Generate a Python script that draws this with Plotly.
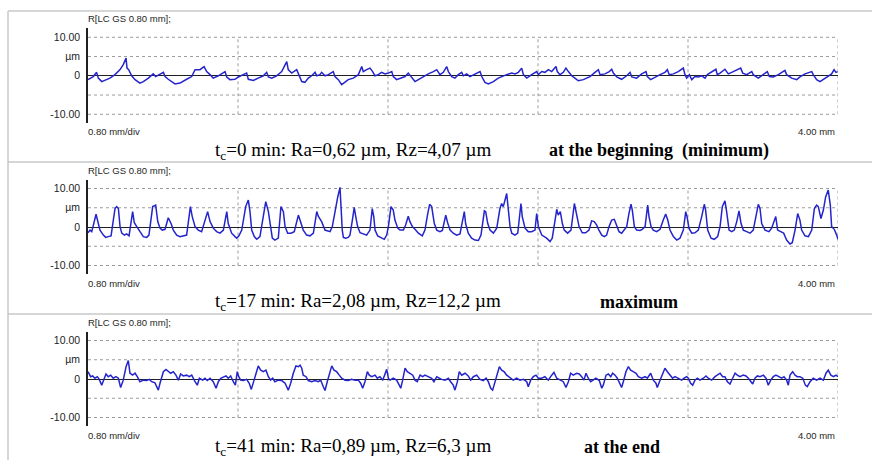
import plotly.graph_objects as go

# ---------------- data ----------------
TICK_VALS = [10, 5, 0, -10]
TICK_TEXT = ["10.00", "µm", "0", "-10.00"]
GRID_Y = [10, 5, -5, -10]
GRID_X = [0.8, 1.6, 2.4, 3.2, 4.0]
X_RANGE = [0.0, 4.0]
Y_RANGE = [-12.2, 12.3]
HEADER = "R[LC GS 0.80 mm];"
SCALE_LEFT = "0.80 mm/div"
SCALE_RIGHT = "4.00 mm"
CAPTIONS = [
    "t<sub>c</sub>=0 min: Ra=0,62 µm, Rz=4,07 µm",
    "t<sub>c</sub>=17 min: Ra=2,08 µm, Rz=12,2 µm",
    "t<sub>c</sub>=41 min: Ra=0,89 µm, Rz=6,3 µm",
]
NOTES = ["at the beginning\u00a0\u00a0(minimum)", "maximum", "at the end"]

# profile points (position in mm, height in µm)
PROFILE_0MIN = [
    (0.000, -1.0), (0.011, -0.6), (0.028, -0.2), (0.046, 0.9), (0.055, -0.6), (0.073, -1.5), (0.091, -1.2),
    (0.117, -0.6), (0.144, 0.3), (0.171, 1.6), (0.188, 2.9), (0.203, 4.6), (0.208, 2.0), (0.217, 1.6),
    (0.233, 0.0), (0.251, -1.0), (0.277, -1.9), (0.295, -1.5), (0.322, -0.6), (0.348, 0.5), (0.361, -0.2),
    (0.384, 0.3), (0.402, 0.9), (0.411, -0.2), (0.428, -0.9), (0.464, -2.1), (0.491, -1.9), (0.526, -0.9),
    (0.553, -0.2), (0.571, 1.6), (0.597, 1.6), (0.619, 2.4), (0.633, 1.1), (0.651, 0.3), (0.668, -0.6),
    (0.695, 0.0), (0.713, 0.5), (0.731, 1.1), (0.740, -0.3), (0.757, -1.0), (0.784, -0.9), (0.802, -0.3),
    (0.828, 0.3), (0.846, 0.7), (0.855, -0.9), (0.882, -1.2), (0.908, -0.6), (0.935, 0.0), (0.953, 0.9),
    (0.962, -0.3), (0.980, -0.6), (1.006, 0.0), (1.033, 1.1), (1.060, 3.7), (1.068, 1.6), (1.086, 0.7),
    (1.113, 1.6), (1.131, -0.5), (1.140, -1.5), (1.157, -1.7), (1.175, -0.6), (1.193, 0.0), (1.211, 0.9),
    (1.220, 0.0), (1.237, 0.3), (1.246, 0.9), (1.264, 0.0), (1.282, 0.3), (1.300, 0.9), (1.308, 1.1),
    (1.317, -0.2), (1.335, -1.0), (1.353, -2.3), (1.371, -1.7), (1.388, -1.0), (1.415, -0.6), (1.442, 0.3),
    (1.460, 2.4), (1.468, 1.1), (1.486, 1.6), (1.504, 2.0), (1.518, 1.1), (1.531, 0.0), (1.548, 0.3),
    (1.566, 0.9), (1.584, 0.5), (1.602, 0.7), (1.620, 1.1), (1.628, -0.2), (1.646, -1.0), (1.673, -0.6),
    (1.691, -0.2), (1.708, 0.7), (1.721, -0.2), (1.744, -1.5), (1.762, -1.0), (1.788, -0.2), (1.815, 0.5),
    (1.842, 1.1), (1.860, 1.6), (1.877, 0.3), (1.895, 0.9), (1.913, 2.4), (1.922, 1.1), (1.940, -0.2),
    (1.957, -0.6), (1.975, 0.3), (1.993, 0.9), (2.002, 0.0), (2.020, 0.5), (2.037, -0.2), (2.064, 0.5),
    (2.091, 1.1), (2.100, -0.2), (2.117, -1.7), (2.135, -2.1), (2.162, -1.5), (2.188, -0.6), (2.215, 0.0),
    (2.233, 0.3), (2.260, 0.7), (2.277, 0.5), (2.295, 0.9), (2.313, 2.0), (2.322, 0.3), (2.340, -0.6),
    (2.366, 0.3), (2.393, 1.1), (2.402, 0.3), (2.420, 1.1), (2.437, 0.9), (2.455, 1.6), (2.473, 1.1),
    (2.496, 2.4), (2.503, 1.1), (2.517, 0.3), (2.535, 0.9), (2.549, 2.0), (2.562, 1.1), (2.580, 0.0),
    (2.597, -0.6), (2.615, -1.3), (2.642, -1.0), (2.677, -0.2), (2.704, 0.9), (2.722, 1.6), (2.731, 0.3),
    (2.757, 0.5), (2.780, 1.1), (2.793, 1.7), (2.802, 0.7), (2.820, -0.3), (2.846, -0.9), (2.873, 0.0),
    (2.891, 0.9), (2.900, -0.3), (2.926, -0.6), (2.953, 0.5), (2.976, 1.1), (2.983, -0.2), (3.001, -1.0),
    (3.024, -0.3), (3.051, 0.3), (3.077, 0.9), (3.090, 1.6), (3.100, 0.3), (3.122, 0.5), (3.148, 1.1),
    (3.175, 2.0), (3.184, 0.3), (3.193, -0.6), (3.207, 0.3), (3.220, -1.0), (3.237, -0.2), (3.255, -0.3),
    (3.273, 0.0), (3.291, -0.6), (3.303, 0.3), (3.326, 1.1), (3.349, 1.7), (3.356, 0.3), (3.371, 0.7),
    (3.397, 1.7), (3.415, 0.5), (3.433, 0.9), (3.460, 1.6), (3.481, 2.0), (3.492, 0.7), (3.513, 0.3),
    (3.540, 1.1), (3.548, 0.3), (3.575, -0.6), (3.598, 0.3), (3.623, 1.1), (3.634, -0.2), (3.655, -0.3),
    (3.682, 0.3), (3.705, 0.9), (3.717, 1.4), (3.726, 0.3), (3.753, -0.6), (3.780, -1.0), (3.797, -0.3),
    (3.824, 0.5), (3.842, 0.9), (3.860, 1.1), (3.868, 0.3), (3.886, -1.0), (3.904, -1.5), (3.931, -0.6),
    (3.948, 0.0), (3.966, 0.5), (3.979, 1.6), (3.989, 0.9), (3.998, 1.1),
]

PROFILE_17MIN = [
    (0.000, -1.5), (0.011, -0.8), (0.020, -1.2), (0.043, 3.3), (0.055, 0.9), (0.064, -0.8), (0.082, -2.1),
    (0.094, -2.7), (0.108, -2.5), (0.123, -2.3), (0.144, 4.8), (0.153, 5.3), (0.162, 4.8), (0.171, 0.1),
    (0.180, -1.6), (0.194, -2.1), (0.206, -1.8), (0.219, -2.3), (0.238, 4.0), (0.247, 1.1), (0.260, 0.1),
    (0.277, -1.2), (0.295, -2.5), (0.313, -2.7), (0.325, -2.1), (0.345, 5.3), (0.361, 5.7), (0.372, 1.4),
    (0.384, -0.3), (0.396, -0.8), (0.411, -0.6), (0.428, 2.4), (0.443, 0.9), (0.455, -0.8), (0.473, -2.1),
    (0.491, -2.5), (0.508, -2.3), (0.526, -2.1), (0.546, 5.3), (0.556, 2.7), (0.571, 0.1), (0.588, -0.8),
    (0.606, -1.2), (0.638, 4.0), (0.651, 1.4), (0.668, -0.3), (0.686, -1.2), (0.704, -1.6), (0.722, -0.8),
    (0.740, 4.0), (0.748, 0.9), (0.766, -1.6), (0.784, -2.5), (0.793, -2.9), (0.805, -2.3), (0.820, -0.8),
    (0.841, 5.3), (0.855, 7.0), (0.864, 4.0), (0.873, -0.8), (0.887, -2.5), (0.900, -3.2), (0.917, -2.5),
    (0.935, 2.7), (0.948, 6.6), (0.962, 4.0), (0.976, -0.8), (0.983, -2.9), (0.997, -3.4), (1.015, -2.9),
    (1.029, 5.3), (1.042, 4.0), (1.051, 0.1), (1.065, -1.6), (1.083, -1.6), (1.100, -1.2), (1.122, 3.1),
    (1.131, 1.8), (1.148, -0.8), (1.166, -2.1), (1.184, -2.3), (1.202, -1.6), (1.220, 4.0), (1.228, 2.8),
    (1.246, 1.4), (1.264, -0.8), (1.291, -1.2), (1.303, 0.1), (1.317, 4.4), (1.332, 7.8), (1.344, 10.3),
    (1.349, 5.3), (1.356, -0.8), (1.362, -2.7), (1.374, -2.9), (1.388, -2.7), (1.397, -2.1), (1.410, 1.8),
    (1.420, 5.1), (1.428, 2.7), (1.438, 0.1), (1.451, -1.5), (1.468, -1.8), (1.486, -2.1), (1.504, -0.8),
    (1.516, 4.8), (1.524, 2.7), (1.531, -0.8), (1.545, -2.3), (1.563, -2.7), (1.580, -3.2), (1.593, -2.1),
    (1.602, 0.1), (1.616, 5.3), (1.628, 4.4), (1.637, 1.8), (1.652, -0.3), (1.664, -0.8), (1.682, -0.8),
    (1.694, 0.5), (1.708, 2.8), (1.717, 1.4), (1.730, 0.1), (1.744, -0.6), (1.762, -1.6), (1.783, -2.3),
    (1.797, -0.8), (1.812, 3.5), (1.822, 5.9), (1.833, 5.3), (1.847, 0.9), (1.860, -0.8), (1.877, -1.2),
    (1.890, -0.9), (1.908, 3.1), (1.918, 1.1), (1.931, -0.8), (1.948, -1.6), (1.966, -2.1), (1.984, -1.8),
    (2.007, 4.0), (2.014, 0.9), (2.028, -1.6), (2.046, -2.9), (2.064, -3.4), (2.082, -3.5), (2.096, -2.1),
    (2.114, 4.2), (2.121, 4.0), (2.132, 0.9), (2.144, -0.8), (2.162, -1.6), (2.180, -0.3), (2.197, 4.8),
    (2.206, 6.1), (2.215, 5.3), (2.224, 7.0), (2.233, 8.7), (2.242, 4.4), (2.251, 0.1), (2.260, -1.6),
    (2.277, -2.1), (2.292, -1.6), (2.309, 6.1), (2.316, 2.7), (2.331, -0.3), (2.348, -1.2), (2.366, -1.2),
    (2.384, -0.8), (2.393, 3.5), (2.402, 0.1), (2.420, -2.1), (2.446, -2.9), (2.464, -3.8), (2.476, -2.9),
    (2.491, 1.8), (2.500, 4.6), (2.508, 3.1), (2.519, 4.0), (2.530, 0.9), (2.540, -0.8), (2.558, -1.6),
    (2.576, -0.8), (2.594, 6.1), (2.606, 3.5), (2.619, 0.1), (2.636, -1.5), (2.654, -1.5), (2.672, -0.8),
    (2.686, 1.6), (2.700, 1.4), (2.713, 0.5), (2.725, -0.8), (2.740, -2.1), (2.754, -2.5), (2.766, -2.1),
    (2.779, 0.1), (2.793, 1.8), (2.807, 2.0), (2.820, 0.1), (2.832, -1.2), (2.846, -1.6), (2.860, -0.8),
    (2.873, 0.1), (2.885, 3.5), (2.896, 5.9), (2.903, 4.4), (2.914, 0.1), (2.926, -0.8), (2.944, -0.9),
    (2.956, -0.6), (2.971, 0.1), (2.985, 5.7), (2.992, 2.7), (3.003, 0.1), (3.015, -0.8), (3.033, -1.2),
    (3.051, -0.6), (3.068, 1.8), (3.081, 3.4), (3.092, 1.8), (3.104, -0.8), (3.122, -2.5), (3.140, -3.4),
    (3.157, -2.9), (3.175, -0.8), (3.188, 4.0), (3.195, 2.7), (3.205, -0.3), (3.220, -1.6), (3.237, -1.5),
    (3.255, -0.8), (3.273, 2.7), (3.287, 5.9), (3.294, 4.4), (3.305, -0.8), (3.323, -2.9), (3.340, -3.2),
    (3.358, -2.5), (3.371, 0.1), (3.383, 5.3), (3.397, 6.8), (3.406, 4.0), (3.419, -0.8), (3.433, -1.2),
    (3.447, -0.8), (3.460, 1.4), (3.472, 4.2), (3.483, 0.9), (3.495, -0.8), (3.513, -1.2), (3.531, -1.6),
    (3.548, -0.8), (3.561, 2.7), (3.575, 5.9), (3.584, 4.8), (3.593, 0.9), (3.611, -0.8), (3.632, -1.2),
    (3.646, -0.3), (3.668, 2.7), (3.678, -0.8), (3.696, -1.2), (3.710, -1.6), (3.726, -3.4), (3.744, -4.4),
    (3.756, -4.1), (3.771, -0.8), (3.785, 3.5), (3.797, 1.8), (3.806, -0.8), (3.824, -2.3), (3.842, -2.5),
    (3.860, -0.8), (3.874, 4.8), (3.886, 5.7), (3.895, 5.3), (3.909, 2.2), (3.922, 4.4), (3.934, 7.8),
    (3.948, 9.6), (3.959, 5.7), (3.966, 0.1), (3.980, -0.6), (3.993, -2.1), (4.000, -3.2),
]

PROFILE_41MIN = [
    (0.000, 1.9), (0.007, 1.0), (0.014, 0.6), (0.025, 0.8), (0.037, 0.2), (0.050, 0.6), (0.060, -0.1),
    (0.073, -1.6), (0.085, -0.3), (0.096, 1.3), (0.108, 0.6), (0.121, 1.0), (0.135, 0.2), (0.149, 0.6),
    (0.162, 0.2), (0.174, -2.2), (0.188, -0.3), (0.203, 3.2), (0.215, 4.8), (0.224, 1.5), (0.238, 1.0),
    (0.251, 1.5), (0.263, 0.6), (0.277, -0.7), (0.295, -0.3), (0.313, -0.4), (0.327, -0.1), (0.340, -0.7),
    (0.357, -1.0), (0.375, -2.9), (0.384, -1.1), (0.402, 1.9), (0.416, 2.5), (0.428, 1.9), (0.441, 1.5),
    (0.455, 1.9), (0.469, 1.0), (0.482, -0.3), (0.494, 1.3), (0.508, 0.8), (0.526, 1.0), (0.540, 0.6),
    (0.553, 1.0), (0.571, -0.7), (0.583, -1.6), (0.594, 0.2), (0.612, -0.3), (0.624, 0.2), (0.636, -0.4),
    (0.651, 0.2), (0.668, -0.7), (0.683, -2.4), (0.695, -0.7), (0.708, 0.2), (0.722, 0.6), (0.736, 0.8),
    (0.748, 0.2), (0.761, 0.8), (0.775, -0.7), (0.786, -1.6), (0.796, 1.9), (0.804, 0.6), (0.814, -0.3),
    (0.828, -0.4), (0.846, -0.1), (0.860, -1.1), (0.871, -2.7), (0.882, -0.7), (0.896, 1.9), (0.908, 3.4),
    (0.921, 2.3), (0.935, 1.9), (0.949, 2.3), (0.962, 0.6), (0.974, -0.3), (0.985, 0.2), (0.997, -0.7),
    (1.015, -0.3), (1.033, -0.4), (1.051, -1.1), (1.068, -2.9), (1.081, -1.1), (1.095, 1.5), (1.109, 3.4),
    (1.122, 3.2), (1.131, 3.6), (1.140, 2.8), (1.148, 1.0), (1.163, 0.6), (1.175, -0.4), (1.193, -0.7),
    (1.211, -0.4), (1.228, -0.7), (1.241, -0.3), (1.255, -2.0), (1.264, -3.0), (1.276, -0.7), (1.291, 2.3),
    (1.300, 3.4), (1.312, 2.3), (1.326, 1.9), (1.340, 1.0), (1.353, 0.2), (1.371, -0.3), (1.388, -0.4),
    (1.406, -0.1), (1.424, -0.3), (1.442, -0.3), (1.454, -1.1), (1.465, -2.4), (1.477, -0.7), (1.490, 1.9),
    (1.500, 1.0), (1.513, 0.6), (1.531, 1.0), (1.543, 0.2), (1.557, 0.6), (1.572, -0.3), (1.584, 1.5),
    (1.593, 2.5), (1.602, 0.2), (1.611, -0.3), (1.628, 0.2), (1.646, -0.3), (1.660, -1.6), (1.668, -2.4),
    (1.678, -0.3), (1.691, 2.8), (1.703, 1.9), (1.717, 1.5), (1.732, 1.0), (1.744, -0.3), (1.756, -0.7),
    (1.771, 1.0), (1.785, 0.6), (1.797, 1.0), (1.815, 0.6), (1.833, 0.2), (1.845, -0.7), (1.860, 0.6),
    (1.874, 0.2), (1.886, -0.1), (1.904, -0.3), (1.922, 0.2), (1.934, -0.7), (1.948, -1.6), (1.957, -2.9),
    (1.970, -0.7), (1.980, 1.9), (1.993, 1.0), (2.011, 1.5), (2.028, 0.8), (2.041, -0.3), (2.055, 0.6),
    (2.073, 1.0), (2.091, -0.1), (2.108, -0.4), (2.123, 0.2), (2.135, -0.7), (2.148, -2.4), (2.158, -2.9),
    (2.171, -0.7), (2.183, 1.9), (2.194, 3.2), (2.206, 2.3), (2.219, 1.9), (2.233, 1.0), (2.251, 0.2),
    (2.268, -0.3), (2.286, 0.2), (2.304, -0.3), (2.322, -0.1), (2.340, -0.7), (2.348, -2.0), (2.361, -0.3),
    (2.375, 0.6), (2.389, 1.0), (2.402, 0.2), (2.420, 0.2), (2.437, 0.6), (2.455, -0.3), (2.473, 1.0),
    (2.485, 1.7), (2.500, 0.2), (2.517, -0.3), (2.535, -0.7), (2.549, -2.2), (2.562, -0.7), (2.574, 1.5),
    (2.588, 1.0), (2.606, 1.5), (2.620, 1.3), (2.633, 0.6), (2.645, -0.3), (2.656, 1.5), (2.668, 0.2),
    (2.681, -0.7), (2.695, -0.3), (2.709, 0.2), (2.727, -0.4), (2.740, -2.4), (2.748, -1.6), (2.763, 1.0),
    (2.775, 1.3), (2.788, 0.6), (2.798, 1.5), (2.811, 1.0), (2.823, 0.2), (2.837, -1.1), (2.846, -2.2),
    (2.855, -0.7), (2.869, 1.9), (2.882, 3.2), (2.894, 2.3), (2.908, 1.9), (2.923, 1.5), (2.935, 0.6),
    (2.953, 0.2), (2.971, 0.6), (2.983, 0.2), (3.001, 1.5), (3.015, -0.3), (3.029, -1.1), (3.036, -2.2),
    (3.051, -0.3), (3.065, 1.5), (3.077, 2.8), (3.090, 1.9), (3.104, 1.0), (3.118, 0.2), (3.131, 0.6),
    (3.148, 0.2), (3.166, -0.3), (3.179, 0.2), (3.193, 0.6), (3.202, 0.2), (3.214, -1.1), (3.225, -1.6),
    (3.237, -0.3), (3.250, 0.2), (3.264, -0.3), (3.282, 0.2), (3.296, 0.8), (3.308, 0.2), (3.326, -0.3),
    (3.344, 0.6), (3.356, 1.0), (3.371, 1.5), (3.385, 0.6), (3.397, 0.6), (3.410, -0.7), (3.424, -1.3),
    (3.438, 0.2), (3.451, 1.5), (3.463, 1.0), (3.477, 0.6), (3.495, 1.0), (3.509, 0.8), (3.522, 0.2),
    (3.534, -0.7), (3.545, -1.3), (3.557, 0.2), (3.570, 0.8), (3.584, 0.6), (3.602, 1.0), (3.616, 0.2),
    (3.628, -1.6), (3.641, -0.3), (3.655, 0.6), (3.669, 1.0), (3.682, 0.6), (3.700, 0.2), (3.712, 0.6),
    (3.726, -0.3), (3.735, -1.6), (3.744, 1.0), (3.758, 1.9), (3.771, 1.0), (3.783, 0.6), (3.797, 0.6),
    (3.812, 0.2), (3.826, -1.6), (3.836, -2.0), (3.851, -0.7), (3.868, 0.2), (3.886, -0.3), (3.904, 0.2),
    (3.922, -0.3), (3.936, 1.5), (3.948, 2.3), (3.962, 1.0), (3.976, 0.6), (3.989, 1.0), (4.000, 0.6),
]

PROFILES = [PROFILE_0MIN, PROFILE_17MIN, PROFILE_41MIN]

# ---------------- layout geometry (pixels) ----------------
W, H = 872, 460
PLOT_LEFT, PLOT_RIGHT = 88, 838
ZERO_ROWS = [75.8, 227.0, 379.0]
PX_PER_UM = 3.85
CAPTION_X = 213
CAPTION_OFFSETS = [75, 75, 68]
NOTE_X = [547, 598, 582]

SANS = "Liberation Sans, Arial, sans-serif"
SERIF = "Liberation Serif, Times New Roman, serif"
TEXT_COL = "#1e1e1e"
LINE_COL = "#2424cc"
GRID_COL = "#9c9c9c"
FRAME_COL = "#c9c9c9"


def px_x(px):
    return px / W


def px_y(py):
    return 1 - py / H


fig = go.Figure()
layout = dict(
    width=W, height=H, margin=dict(l=0, r=0, t=0, b=0),
    paper_bgcolor="white", plot_bgcolor="rgba(0,0,0,0)", showlegend=False,
)
shapes = []
annotations = []

for i, (prof, zero_row) in enumerate(zip(PROFILES, ZERO_ROWS)):
    sfx = "" if i == 0 else str(i + 1)
    xs = [p[0] for p in prof]
    ys = [p[1] for p in prof]
    fig.add_trace(go.Scatter(
        x=xs, y=ys, mode="lines", line=dict(color=LINE_COL, width=1.5),
        xaxis="x" + sfx, yaxis="y" + sfx, hoverinfo="skip",
    ))
    top_px = zero_row - Y_RANGE[1] * PX_PER_UM
    bot_px = zero_row - Y_RANGE[0] * PX_PER_UM
    layout["xaxis" + sfx] = dict(
        domain=[px_x(PLOT_LEFT), px_x(PLOT_RIGHT)], range=X_RANGE,
        showticklabels=False, showgrid=False, zeroline=False, showline=False,
        ticks="", anchor="y" + sfx, fixedrange=True,
    )
    layout["yaxis" + sfx] = dict(
        domain=[px_y(bot_px), px_y(top_px)], range=Y_RANGE,
        tickvals=TICK_VALS, ticktext=TICK_TEXT, ticks="",
        tickfont=dict(family=SANS, size=10.5, color=TEXT_COL),
        ticklabelstandoff=4,
        showgrid=False, zeroline=True, zerolinecolor="#202020", zerolinewidth=1.2,
        showline=True, linecolor="#202020", linewidth=1.6,
        anchor="x" + sfx, fixedrange=True,
    )
    xr, yr = "x" + sfx, "y" + sfx
    for gy in GRID_Y:
        shapes.append(dict(type="line", xref=xr, yref=yr, x0=X_RANGE[0], x1=X_RANGE[1], y0=gy, y1=gy,
                           line=dict(color=GRID_COL, width=1, dash="3px,3px"), layer="below"))
    for gx in GRID_X:
        shapes.append(dict(type="line", xref=xr, yref=yr, x0=gx, x1=gx, y0=GRID_Y[-1], y1=GRID_Y[0],
                           line=dict(color=GRID_COL, width=1, dash="3px,3px"), layer="below"))

    annotations.append(dict(text=HEADER, x=px_x(86), y=px_y(zero_row - 57), xref="paper", yref="paper",
                            xanchor="left", yanchor="middle", showarrow=False,
                            font=dict(family=SANS, size=9.5, color=TEXT_COL)))
    annotations.append(dict(text=SCALE_LEFT, x=px_x(86), y=px_y(zero_row + 56), xref="paper", yref="paper",
                            xanchor="left", yanchor="middle", showarrow=False,
                            font=dict(family=SANS, size=9.5, color=TEXT_COL)))
    annotations.append(dict(text=SCALE_RIGHT, x=px_x(837), y=px_y(zero_row + 56), xref="paper", yref="paper",
                            xanchor="right", yanchor="middle", showarrow=False,
                            font=dict(family=SANS, size=9.5, color=TEXT_COL)))
    cap_y = px_y(zero_row + CAPTION_OFFSETS[i])
    annotations.append(dict(text=CAPTIONS[i], x=px_x(CAPTION_X), y=cap_y, xref="paper", yref="paper",
                            xanchor="left", yanchor="middle", showarrow=False,
                            font=dict(family=SERIF, size=19, color="#000000")))
    annotations.append(dict(text="<b>" + NOTES[i] + "</b>", x=px_x(NOTE_X[i]), y=cap_y,
                            xref="paper", yref="paper", xanchor="left", yanchor="middle", showarrow=False,
                            font=dict(family=SERIF, size=18, color="#000000")))

# light frame / separators between panels
for sep in [11, 162, 314]:
    shapes.append(dict(type="line", xref="paper", yref="paper", x0=px_x(8), x1=1, y0=px_y(sep), y1=px_y(sep),
                       line=dict(color=FRAME_COL, width=1.5)))
shapes.append(dict(type="line", xref="paper", yref="paper", x0=px_x(8), x1=px_x(8), y0=px_y(11), y1=0,
                   line=dict(color=FRAME_COL, width=1.5)))

layout["shapes"] = shapes
layout["annotations"] = annotations
fig.update_layout(**layout)
fig.write_html("out.html")
